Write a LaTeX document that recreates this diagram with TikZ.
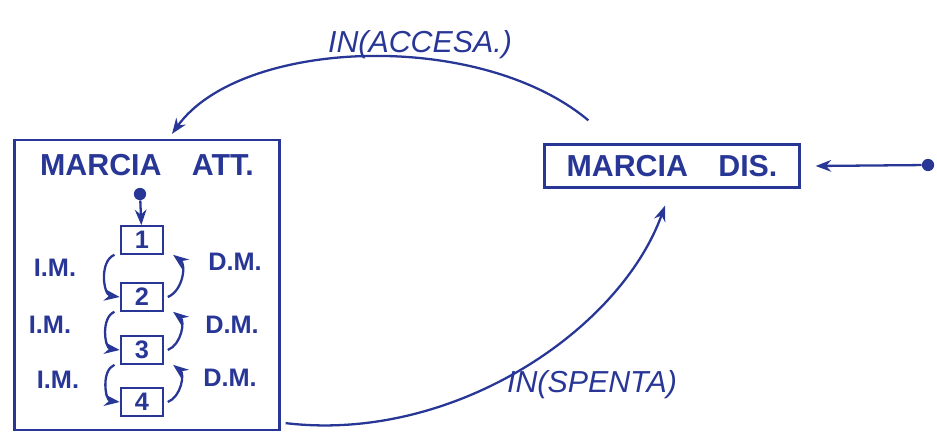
\documentclass[tikz,border=0pt]{standalone}
\usepackage{fontspec}
\setmainfont{Liberation Sans}
\usetikzlibrary{arrows.meta,positioning}
\definecolor{ink}{RGB}{40,55,150}

\begin{document}
\begin{tikzpicture}[x=0.02cm,y=-0.02cm,>=Stealth,every node/.style={font=\LARGE,text=ink,align=center},statebox/.style={draw=ink,line width=1.3pt},gearbox/.style={draw=ink,line width=1.2pt,minimum width=0.85cm,minimum height=0.55cm,inner sep=0pt,font=\Large\bfseries},initdot/.style={circle,fill=ink,inner sep=0pt,minimum size=7pt},lbl/.style={font=\Large\bfseries},arrow/.style={->,draw=ink,line width=1.3pt}]
\useasboundingbox (0,0) rectangle (937,439);
% stati
\node[statebox,minimum width=5.3cm,minimum height=5.8cm] (att) at (147,285) {}; \node[font=\LARGE\bfseries] (attname) at (147,165) {MARCIA\quad ATT.};
\node[statebox,minimum width=5.1cm,minimum height=0.86cm,font=\LARGE\bfseries] (dis) at (672,166) {MARCIA\quad DIS.};
% marce
\node[gearbox] (g1) at (142,240) {1}; \node[gearbox] (g2) at (142,297) {2}; \node[gearbox] (g3) at (142,350) {3}; \node[gearbox] (g4) at (142,402) {4};
\node[initdot] (start) at (140,194) {}; \draw[arrow] (start) -- (g1);
\draw[arrow] ([xshift=-3pt]g1.south west) to[bend right=75] (g2.west); \draw[arrow] ([xshift=-3pt]g2.south west) to[bend right=75] (g3.west); \draw[arrow] ([xshift=-3pt]g3.south west) to[bend right=75] (g4.west);
\draw[arrow] ([xshift=2pt]g2.east) to[bend right=60] ([xshift=5pt]g1.south east); \draw[arrow] ([xshift=2pt]g3.east) to[bend right=60] ([xshift=5pt]g2.south east); \draw[arrow] ([xshift=2pt]g4.east) to[bend right=60] ([xshift=5pt]g3.south east);
\node[lbl] (im1) at (55,268) {I.M.}; \node[lbl] (im2) at (50,325) {I.M.}; \node[lbl] (im3) at (58,380) {I.M.};
\node[lbl] (dm1) at (235,262) {D.M.}; \node[lbl] (dm2) at (232,325) {D.M.}; \node[lbl] (dm3) at (230,378) {D.M.};
% transizioni
\node[initdot] (start2) at (928,165) {}; \draw[arrow] (start2) -- ([xshift=0.3cm]dis.east);
\draw[arrow] ([xshift=0.9cm,yshift=0.46cm]dis.north west) .. controls +(-110,-92) and +(68,-95) .. ([xshift=0.5cm,yshift=0.1cm]att.north);
\draw[arrow] ([xshift=0.1cm,yshift=0.16cm]att.south east) .. controls +(167,20) and +(-45,125) .. ([xshift=-0.14cm,yshift=-0.34cm]dis.south);
\node[font=\LARGE\itshape] (accesa) at (420,45) {IN(ACCESA.)}; \node[font=\LARGE\itshape] (spenta) at (592,385) {IN(SPENTA)};
\end{tikzpicture}
\end{document}
